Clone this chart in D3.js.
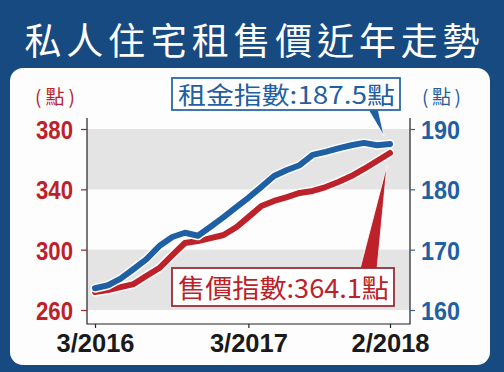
<!doctype html>
<html lang="zh-Hant">
<head>
<meta charset="UTF-8">
<title>私人住宅租售價近年走勢</title>
<style>
  html, body { margin: 0; padding: 0; background: #164a80; }
  svg { display: block; }
  .cjk { font-family: "Noto Sans CJK TC", "Noto Sans CJK SC", sans-serif; }
  .num { font-family: "Liberation Sans Narrow", "Arial Narrow", "Liberation Sans", sans-serif; font-weight: bold; }
</style>
<script src="https://cdn.jsdelivr.net/npm/d3@7"></script>
</head>
<body>
<svg id="chart"></svg>
<script>
const width = 504, height = 372;

// months 3/2016 .. 2/2018
const months = d3.range(24).map(i => new Date(2016, 2 + i, 1));
const saleIndex = [271.9, 273.2, 275.2, 277.2, 282.5, 287.8, 296.4, 304.4, 305.7, 307.7, 309.7, 315.0,
                   321.6, 328.9, 332.3, 334.9, 337.6, 338.9, 341.5, 344.9, 348.8, 353.5, 358.8, 364.1];
const rentIndex = [163.6, 164.1, 165.2, 166.8, 168.4, 170.6, 172.1, 172.8, 172.3, 173.8, 175.4, 177.1,
                   178.6, 180.4, 182.2, 183.2, 184.0, 185.7, 186.2, 186.8, 187.3, 187.7, 187.3, 187.5];
const saleTicks = [260, 300, 340, 380];
const rentTicks = [160, 170, 180, 190];
const xTicks = [new Date(2016, 2, 1), new Date(2017, 2, 1), new Date(2018, 1, 1)];
const xTickLabels = ["3/2016", "3/2017", "2/2018"];

const blue = "#1f5fa3", red = "#bd2129";

const svg = d3.select("#chart").attr("width", width).attr("height", height);

svg.append("rect").attr("width", width).attr("height", height).attr("fill", "#164a80");
svg.append("rect").attr("x", 10).attr("y", 68).attr("width", 480).attr("height", 297)
   .attr("rx", 13).attr("fill", "#fdfdfd");

svg.append("text").attr("class", "cjk")
   .attr("x", 252).attr("y", 55).attr("text-anchor", "middle")
   .attr("fill", "#fff").attr("font-size", 37)
   .attr("textLength", 455).attr("lengthAdjust", "spacing")
   .text("私人住宅租售價近年走勢");

const x = d3.scaleTime().domain([months[0], months[23]]).range([95, 390]);
const ySale = d3.scaleLinear().domain([260, 380]).range([310, 129]);
const yRent = d3.scaleLinear().domain([160, 190]).range([310, 129]);

const pLeft = 87, pRight = 410, pTop = 118, pBottom = 324;

// grey bands
[[380, 340], [300, 260]].forEach(b => {
  svg.append("rect").attr("x", pLeft).attr("width", pRight - pLeft)
     .attr("y", ySale(b[0])).attr("height", ySale(b[1]) - ySale(b[0]))
     .attr("fill", "#e4e4e4");
});

// frame
svg.append("path")
   .attr("d", `M${pLeft},${pTop}V${pBottom}H${pRight}V${pTop}`)
   .attr("fill", "none").attr("stroke", "#222").attr("stroke-width", 1.2);

// left axis
const gl = svg.append("g").attr("transform", `translate(${pLeft},0)`)
  .call(d3.axisLeft(ySale).tickValues(saleTicks).tickSize(6).tickPadding(8));
gl.select(".domain").remove();
gl.selectAll("line").attr("stroke", "#8a2a30").attr("stroke-width", 1.2);
gl.selectAll("text").attr("class", "num").attr("font-size", 26).attr("fill", red).attr("dy", "0.36em")
  .attr("textLength", 37).attr("lengthAdjust", "spacingAndGlyphs");

// right axis
const gr = svg.append("g").attr("transform", `translate(${pRight},0)`)
  .call(d3.axisRight(yRent).tickValues(rentTicks).tickSize(5).tickPadding(6));
gr.select(".domain").remove();
gr.selectAll("line").attr("stroke", "#3a5f88").attr("stroke-width", 1.2);
gr.selectAll("text").attr("class", "num").attr("font-size", 26).attr("fill", blue).attr("dy", "0.36em")
  .attr("textLength", 39).attr("lengthAdjust", "spacingAndGlyphs");

// bottom axis
const gb = svg.append("g").attr("transform", `translate(0,${pBottom})`)
  .call(d3.axisBottom(x).tickValues(xTicks).tickSize(4)
          .tickFormat((d, i) => xTickLabels[i]));
gb.select(".domain").remove();
gb.selectAll("line").attr("stroke", "#222").attr("stroke-width", 1.2);
gb.selectAll("text").attr("class", "num").attr("font-size", 26).attr("fill", "#1a1a1a")
  .attr("y", 28).attr("dy", null)
  .attr("textLength", 78).attr("lengthAdjust", "spacingAndGlyphs");

// unit labels
svg.append("text").attr("class", "cjk").attr("x", 35).attr("y", 104)
   .attr("font-size", 19).attr("fill", red)
   .attr("textLength", 40).attr("lengthAdjust", "spacing").text("(點)");
svg.append("text").attr("class", "cjk").attr("x", 422).attr("y", 104)
   .attr("font-size", 19).attr("fill", blue)
   .attr("textLength", 39).attr("lengthAdjust", "spacing").text("(點)");

// lines
const lineSale = d3.line().x((d, i) => x(months[i])).y(d => ySale(d));
const lineRent = d3.line().x((d, i) => x(months[i])).y(d => yRent(d));

[[saleIndex, lineSale, red], [rentIndex, lineRent, blue]].forEach(([data, gen, col]) => {
  svg.append("path").attr("d", gen(data)).attr("fill", "none")
     .attr("stroke", "#fff").attr("stroke-width", 9)
     .attr("stroke-linejoin", "round").attr("stroke-linecap", "round");
  svg.append("path").attr("d", gen(data)).attr("fill", "none")
     .attr("stroke", col).attr("stroke-width", 6)
     .attr("stroke-linejoin", "round").attr("stroke-linecap", "round");
});

// callouts
const endX = x(months[23]);
const rentEndY = yRent(rentIndex[23]);
const saleEndY = ySale(saleIndex[23]);

// rent pointer + box
svg.append("path")
   .attr("d", `M368,109L378,109L${endX - 6},${rentEndY - 8}Z`)
   .attr("fill", blue).attr("stroke", "#fff").attr("stroke-width", 0.8);
svg.append("rect").attr("x", 172).attr("y", 78).attr("width", 228).attr("height", 32)
   .attr("fill", "#fff").attr("stroke", "#2b6aa3").attr("stroke-width", 1.8);
svg.append("text").attr("class", "cjk").attr("x", 178).attr("y", 104)
   .attr("font-size", 24).attr("fill", blue)
   .attr("textLength", 217).attr("lengthAdjust", "spacingAndGlyphs")
   .text("租金指數:" + rentIndex[23].toFixed(1) + "點");

// sale pointer + box
svg.append("path")
   .attr("d", `M360,269L377,269L${endX - 3},${saleEndY + 12}Z`)
   .attr("fill", red).attr("stroke", "#fff").attr("stroke-width", 0.8);
svg.append("rect").attr("x", 172).attr("y", 268).attr("width", 222).attr("height", 38)
   .attr("fill", "#fff").attr("stroke", "#9a2d34").attr("stroke-width", 1.8);
svg.append("text").attr("class", "cjk").attr("x", 178).attr("y", 298)
   .attr("font-size", 26).attr("fill", red)
   .attr("textLength", 211).attr("lengthAdjust", "spacingAndGlyphs")
   .text("售價指數:" + saleIndex[23].toFixed(1) + "點");
</script>
</body>
</html>
